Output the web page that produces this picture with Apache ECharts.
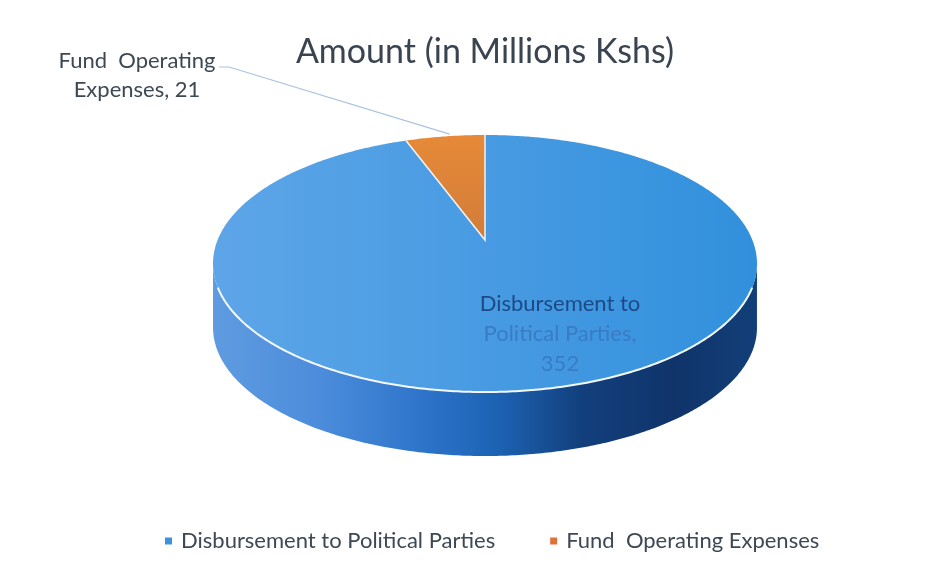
<!DOCTYPE html>
<html>
<head>
<meta charset="utf-8">
<style>html,body{margin:0;padding:0;background:#fff}#c{width:938px;height:576px}</style>
<script src="https://cdn.jsdelivr.net/npm/echarts@6/dist/echarts.min.js"></script>
</head>
<body>
<div id="c"></div>
<script>
const chartTitle = 'Amount (in Millions Kshs)';
const categories = ['Disbursement to Political Parties', 'Fund  Operating Expenses'];
const values = [352, 21];
const labelLines = [['Disbursement to', 'Political Parties,', '352'], ['Fund  Operating', 'Expenses, 21']];
const legendColors = ['#3b93de', '#e0713a'];

const FONT = 'Lato, "Open Sans", sans-serif';
const total = values.reduce((a, b) => a + b, 0);
// perspective disc: apex at (cx,cy), a = x half-width, b/k set the foreshortening
const disc = { cx: 485, cy: 240, a: 267.4, b: 124.2, k: -0.183, depth: 64, rimStartY: 287 };

function project(theta) {
  const u = Math.sin(theta), v = -Math.cos(theta), d = 1 + disc.k * v;
  return [disc.cx + disc.a * u / d, disc.cy + disc.b * v / d];
}
function arc(from, to) {
  const n = Math.max(4, Math.ceil(Math.abs(to - from) / 0.01)), pts = [];
  for (let i = 0; i <= n; i++) pts.push(project(from + (to - from) * i / n));
  return pts;
}
function gradient(x0, y0, x1, y1, stops) {
  return new echarts.graphic.LinearGradient(x0, y0, x1, y1,
    stops.map((c) => ({ offset: c[0], color: c[1] })), true);
}
const topFills = [
  gradient(213, 0, 757, 0, [[0, '#5ea5e8'], [0.45, '#4a9ce3'], [1, '#3190dc']]),
  gradient(0, 135, 0, 240, [[0, '#e68a38'], [1, '#d27c3a']])
];

function renderItem(params, api) {
  const idx = params.seriesIndex;
  let start = 0;
  for (let i = 0; i < idx; i++) start += values[i];
  const a0 = start / total * Math.PI * 2;
  const a1 = (start + api.value(0)) / total * Math.PI * 2;
  const children = [];
  if (idx === 0) {
    // side wall swept from the widest points of the rim; white line on the front part only
    const front = arc(0, Math.PI * 2).filter(p => p[1] >= disc.cy + 24).sort((p, q) => p[0] - q[0]);
    const lower = front.map(p => [p[0], p[1] + disc.depth]).reverse();
    children.push({
      type: 'polygon', shape: { points: front.concat(lower) },
      style: { fill: gradient(213, 0, 757, 0, [
        [0, '#5f9be0'], [0.2, '#4b8cdb'], [0.4, '#2b72c8'], [0.52, '#1d63b4'],
        [0.68, '#123f7c'], [0.85, '#10346a'], [1, '#123f78']]) }
    });
    const rim = front.filter(p => p[1] >= disc.rimStartY);
    children.push({ type: 'polyline', shape: { points: rim },
      style: { stroke: '#f4f8fc', lineWidth: 2, fill: null }, z2: 5 });
  }
  children.push({
    type: 'polygon',
    shape: { points: [[disc.cx, disc.cy]].concat(arc(a0, a1)) },
    style: { fill: topFills[idx] }, z2: 2
  });
  if (idx === 1) {
    const edge = [project(a0), [disc.cx, disc.cy], project(a1)];
    children.push({ type: 'polyline', shape: { points: edge },
      style: { stroke: '#eef3f6', lineWidth: 1.5, fill: null }, z2: 4 });
    const mid = project((a0 + a1) / 2 + 0.02);
    children.push({ type: 'polyline',
      shape: { points: [[219, 67], [229, 67], [mid[0], mid[1] - 2]] },
      style: { stroke: '#a9c3e0', lineWidth: 1.2, fill: null }, z2: 4 });
    children.push({ type: 'text', z2: 6, style: {
      x: 137, y: 75, text: labelLines[1].join('\n'), font: '22px ' + FONT, lineHeight: 29,
      fill: '#3e4855', align: 'center', verticalAlign: 'middle' } });
  } else {
    children.push({ type: 'text', z2: 6, style: {
      x: 560, y: 334, align: 'center', verticalAlign: 'middle',
      text: '{a|' + labelLines[0][0] + '}\n{b|' + labelLines[0][1] + '}\n{b|' + labelLines[0][2] + '}',
      rich: {
        a: { font: '22px ' + FONT, fill: '#1c4a86', lineHeight: 30 },
        b: { font: '22px ' + FONT, fill: '#3a7bc6', lineHeight: 30 }
      } } });
  }
  return { type: 'group', children };
}

const chart = echarts.init(document.getElementById('c'), null, { renderer: 'canvas' });
chart.setOption({
  animation: false,
  backgroundColor: '#ffffff',
  title: {
    text: chartTitle, left: 480, top: 30, textAlign: 'center',
    textStyle: { fontFamily: FONT, fontSize: 34, fontWeight: 'normal', color: '#3a4450' }
  },
  legend: {
    data: categories, left: 160, top: 525, itemWidth: 7, itemHeight: 7, itemGap: 55, icon: 'rect',
    textStyle: { fontFamily: FONT, fontSize: 22, color: '#3e4855', padding: [0, 0, 0, 4] }
  },
  series: categories.map((name, i) => ({
    type: 'custom', name, coordinateSystem: 'none', renderItem, silent: true,
    itemStyle: { color: legendColors[i] },
    data: [{ name, value: values[i] }]
  }))
});
</script>
</body>
</html>
